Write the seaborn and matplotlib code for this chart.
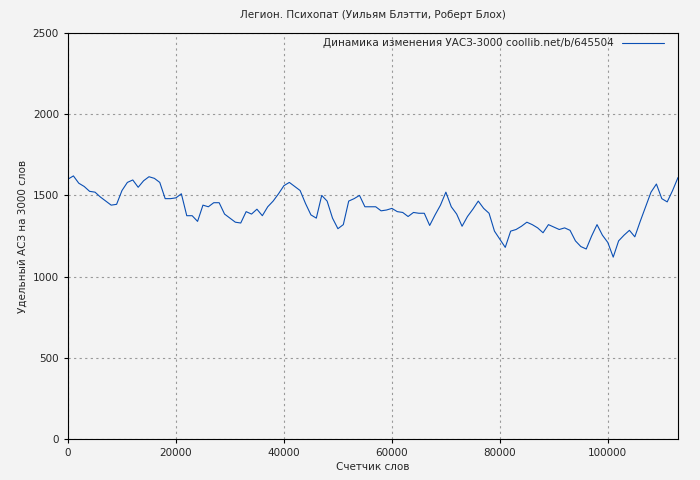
import matplotlib
matplotlib.use("Agg")
import matplotlib.pyplot as plt
import seaborn as sns
import pandas as pd
from matplotlib.lines import Line2D

words = list(range(0, 114000, 1000))
values = [1600,1620,1575,1555,1525,1520,1490,1465,1440,1445,1530,1580,1595,1550,1590,1615,1605,1580,1480,1480,
          1485,1510,1375,1375,1340,1440,1430,1455,1455,1385,1360,1335,1330,1400,1385,1415,1375,1430,1465,1510,
          1560,1580,1555,1530,1450,1380,1360,1500,1465,1360,1295,1320,1465,1480,1500,1430,1430,1430,1405,1410,
          1420,1400,1395,1370,1395,1390,1390,1315,1380,1440,1520,1430,1385,1310,1370,1415,1465,1420,1390,1280,
          1230,1180,1280,1290,1310,1335,1320,1300,1270,1320,1305,1290,1300,1285,1220,1185,1170,1250,1320,1255,
          1210,1120,1220,1255,1285,1245,1340,1430,1520,1570,1480,1460,1530,1610]
df = pd.DataFrame({"w": words, "v": values})

sns.set_style("white")
plt.rcParams['font.family'] = ['DejaVu Sans']
fig = plt.figure(figsize=(7, 4.8), dpi=100, facecolor="#f3f3f3")
ax = fig.add_axes([68/700, 41/480, 610/700, 406/480])
ax.set_facecolor("#f3f3f3")
sns.lineplot(data=df, x="w", y="v", ax=ax, color="#0a4fb4", linewidth=0.8)
ax.set_xlim(0, 113000)
ax.set_ylim(0, 2500)
ax.set_xticks([0, 20000, 40000, 60000, 80000, 100000])
ax.set_yticks([0, 500, 1000, 1500, 2000, 2500])
ax.grid(True, color="#999999", linestyle=(0, (2, 3)), linewidth=0.8)
for s in ax.spines.values():
    s.set_color("black")
ax.tick_params(labelsize=7.5, direction="out", length=3, color="black", left=True, bottom=True)
ax.set_xlabel("Счетчик слов", fontsize=7.5, labelpad=3)
ax.set_ylabel("Удельный АСЗ на 3000 слов", fontsize=7.5)
ax.set_title("Легион. Психопат (Уильям Блэтти, Роберт Блох)", fontsize=7.5, pad=11)
h = Line2D([], [], color="#0a4fb4", linewidth=0.8)
ax.legend([h], ["Динамика изменения УАСЗ-3000 coollib.net/b/645504"], loc="upper right",
          frameon=False, fontsize=7.5, markerfirst=False, handlelength=4, borderaxespad=0.1,
          bbox_to_anchor=(0.985, 1.0))
fig.savefig("out.png", dpi=100, facecolor=fig.get_facecolor())
